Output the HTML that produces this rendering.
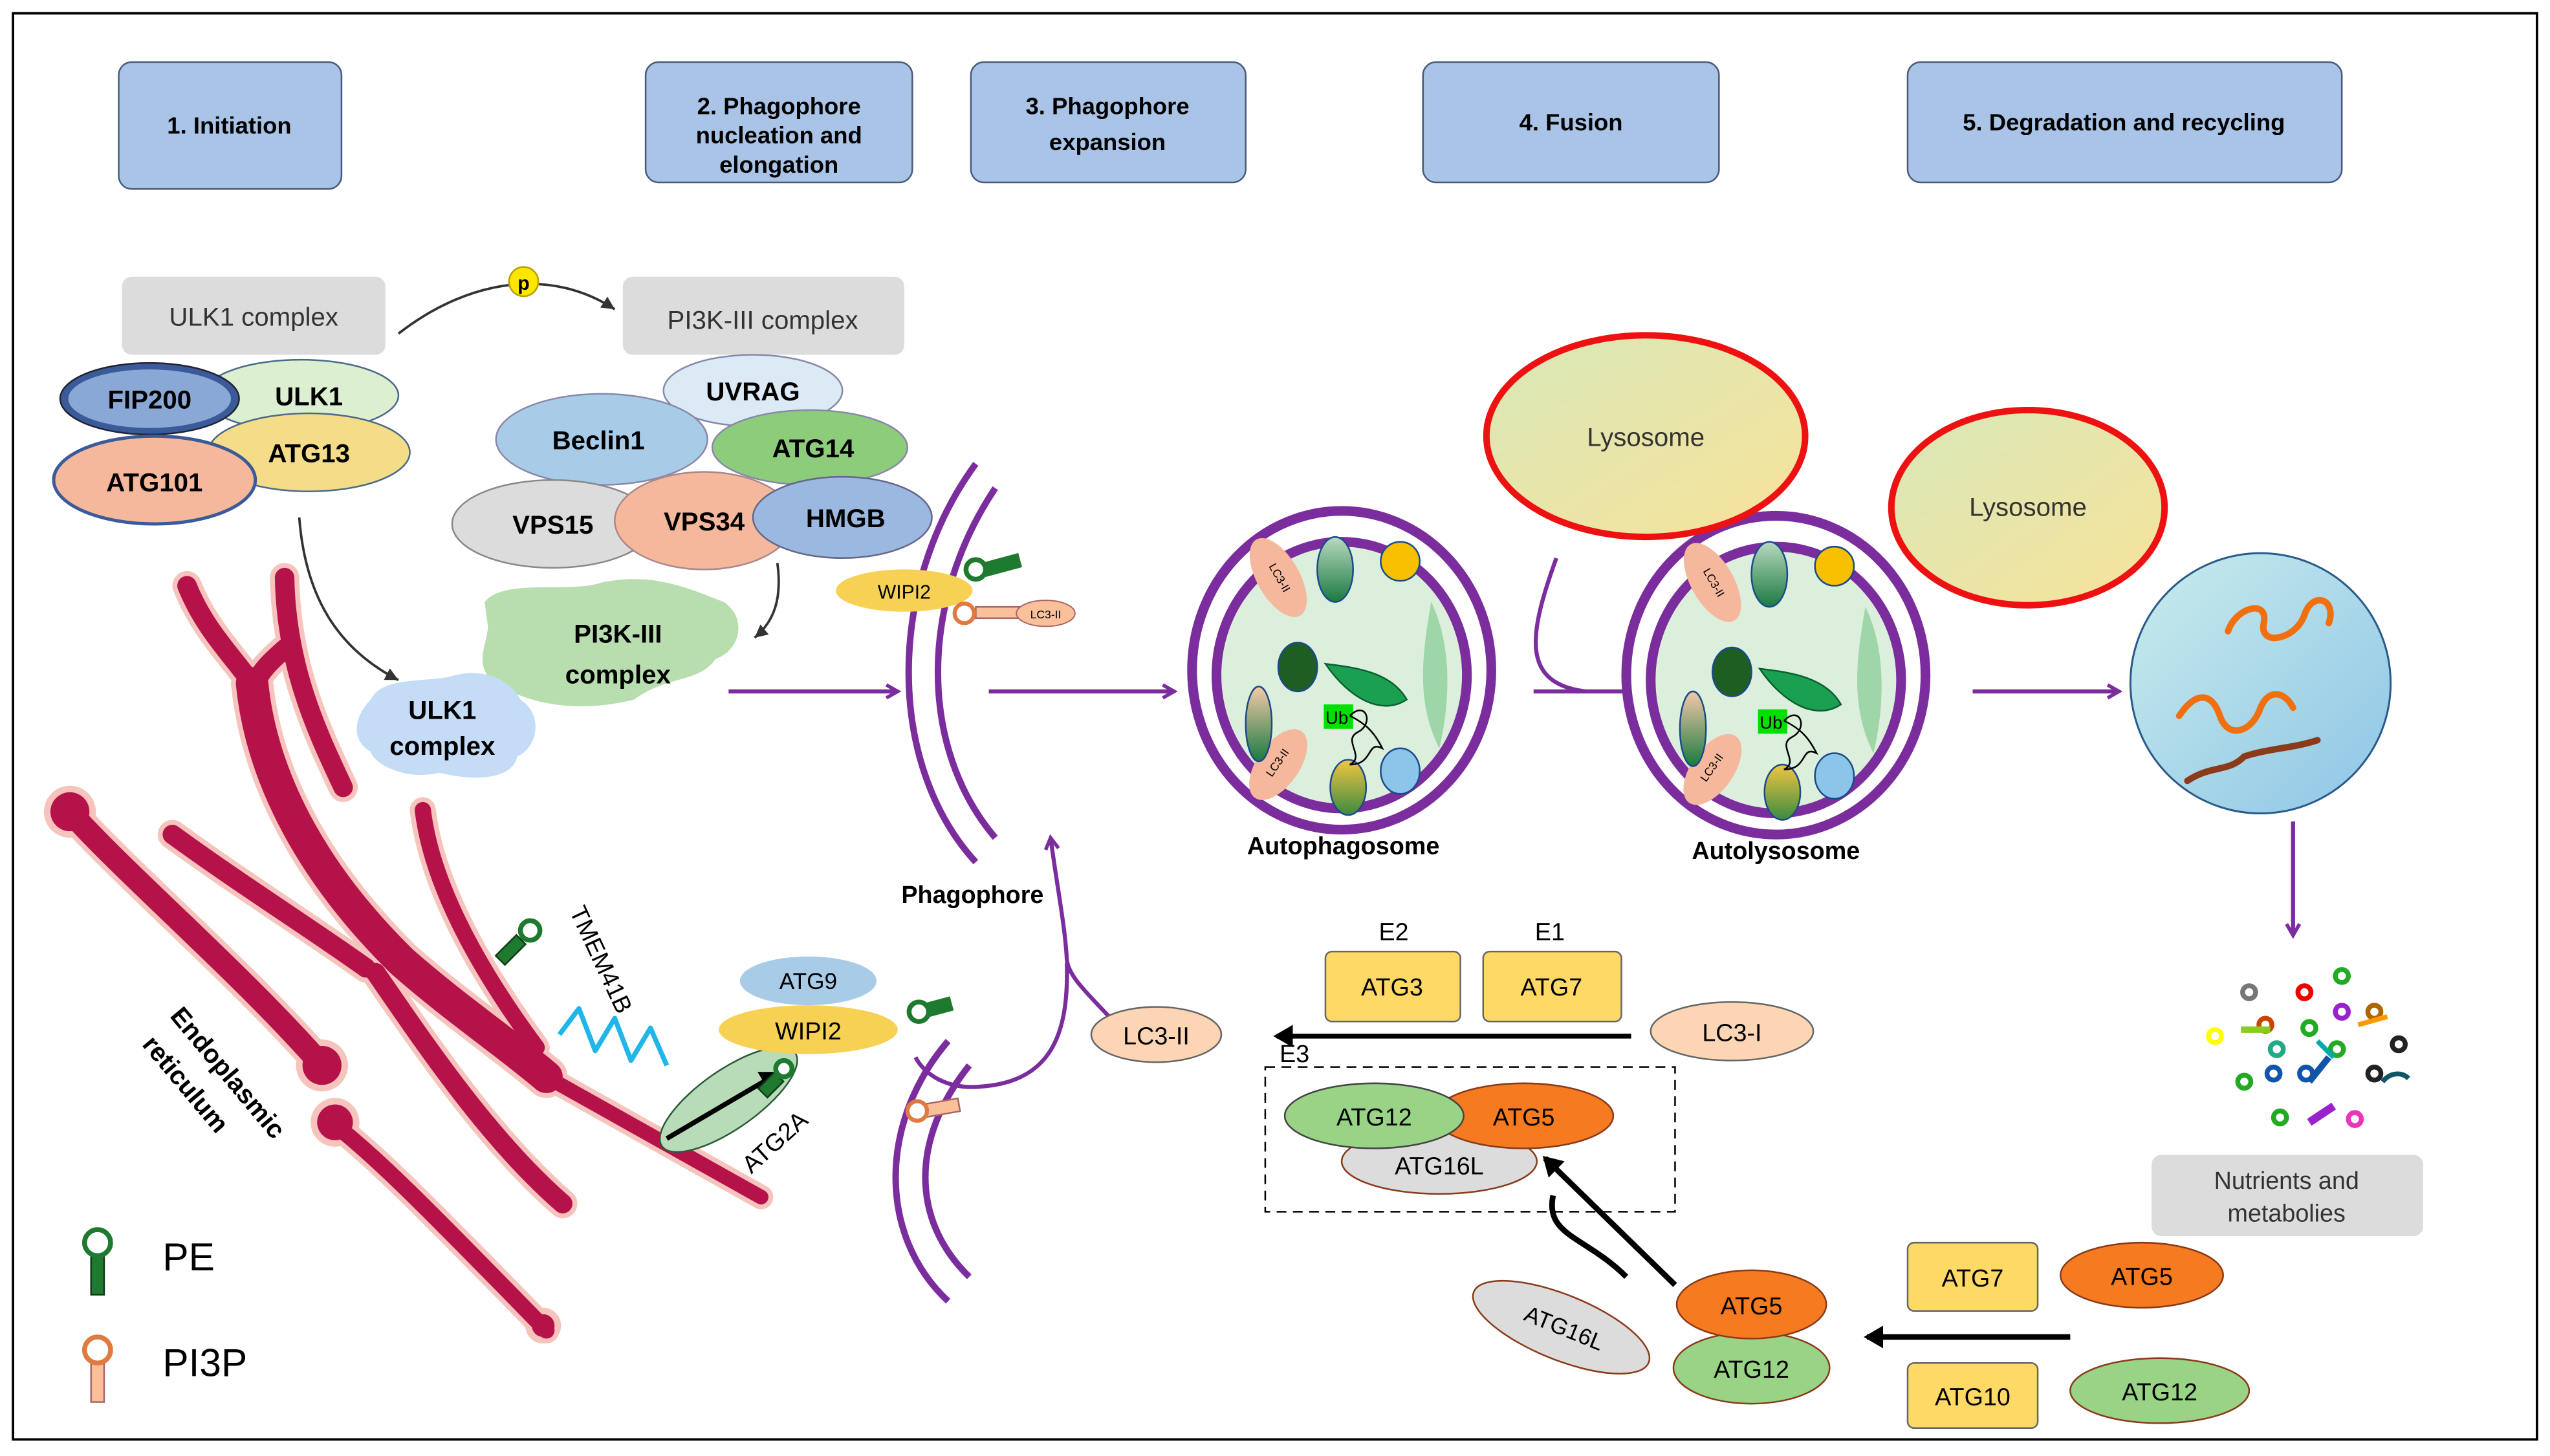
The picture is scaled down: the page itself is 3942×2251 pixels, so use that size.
<!DOCTYPE html>
<html><head><meta charset="utf-8"><style>
html,body{margin:0;padding:0;background:#fff}
svg{display:block}
text{font-family:"Liberation Sans",Arial,sans-serif}
</style></head><body>
<svg width="3942" height="2251" viewBox="0 0 1568 895" xmlns="http://www.w3.org/2000/svg">
<defs>
<marker id="ap" markerWidth="10" markerHeight="10" refX="8" refY="5" orient="auto" markerUnits="userSpaceOnUse"><path d="M1,1 L8,5 L1,9" fill="none" stroke="#7b2d9e" stroke-width="2.2"/></marker>
<marker id="ak" markerWidth="14" markerHeight="14" refX="10" refY="7" orient="auto" markerUnits="userSpaceOnUse"><path d="M0,0 L12,7 L0,14 z" fill="#000"/></marker>
<marker id="ag" markerWidth="10" markerHeight="10" refX="8" refY="5" orient="auto" markerUnits="userSpaceOnUse"><path d="M0,1 L8,5 L0,9 z" fill="#333"/></marker>
<linearGradient id="lys" x1="0" y1="0" x2="1" y2="1"><stop offset="0" stop-color="#d8e8b8"/><stop offset="1" stop-color="#f8e29a"/></linearGradient>
<linearGradient id="deg" x1="0" y1="0" x2="1" y2="1"><stop offset="0" stop-color="#c9ecec"/><stop offset="1" stop-color="#8ec5e6"/></linearGradient>
<linearGradient id="gg" x1="0" y1="0" x2="0" y2="1"><stop offset="0" stop-color="#b9d9c0"/><stop offset="1" stop-color="#1a7a40"/></linearGradient>
<linearGradient id="yg" x1="0" y1="0" x2="0" y2="1"><stop offset="0" stop-color="#f2c641"/><stop offset="1" stop-color="#3c8a40"/></linearGradient>
<linearGradient id="pg" x1="0" y1="0" x2="0" y2="1"><stop offset="0" stop-color="#f4c9a8"/><stop offset="1" stop-color="#1a7a40"/></linearGradient>
</defs>
<rect x="8" y="8" width="1552" height="877" fill="#fff" stroke="#000" stroke-width="1.5"/>

<g fill="#a9c4e6" stroke="#4a5a7a" stroke-width="1">
<rect x="73" y="38" width="137" height="78" rx="8"/>
<rect x="397" y="38" width="164" height="74" rx="8"/>
<rect x="597" y="38" width="169" height="74" rx="8"/>
<rect x="875" y="38" width="182" height="74" rx="8"/>
<rect x="1173" y="38" width="267" height="74" rx="8"/>
</g>
<g font-size="14.5" font-weight="bold" fill="#000" text-anchor="middle">
<text x="141" y="82">1. Initiation</text>
<text x="479" y="70">2. Phagophore</text><text x="479" y="88">nucleation and</text><text x="479" y="106">elongation</text>
<text x="681" y="70">3. Phagophore</text><text x="681" y="92">expansion</text>
<text x="966" y="80">4. Fusion</text>
<text x="1306" y="80">5. Degradation and recycling</text>
</g>

<g fill="none" stroke-linecap="round" stroke-linejoin="round" stroke="#f7c4bd">
<path d="M115,360 C125,385 140,400 155,420" stroke-width="18"/>
<path d="M175,355 C176,410 195,450 211,484" stroke-width="18"/>
<path d="M176,398 C168,405 160,412 156,422" stroke-width="18"/>
<path d="M155,420 C160,470 185,530 247,591 C280,620 310,640 336,662" stroke-width="26"/>
<path d="M336,662 L468,736" stroke-width="15"/>
<path d="M43,499 C80,540 150,600 198,655" stroke-width="20"/>
<path d="M106,513 C150,545 190,570 225,595" stroke-width="18"/>
<path d="M231,598 C260,640 300,700 346,740" stroke-width="18"/>
<path d="M260,498 C265,540 290,590 330,644" stroke-width="16"/>
<path d="M204,690 C230,710 260,740 336,818" stroke-width="16"/>
<circle cx="43" cy="499" r="16" fill="#f7c4bd" stroke="none"/>
<circle cx="198" cy="655" r="16" fill="#f7c4bd" stroke="none"/>
<circle cx="206" cy="690" r="15" fill="#f7c4bd" stroke="none"/>
<circle cx="334" cy="815" r="11" fill="#f7c4bd" stroke="none"/>
</g>
<g fill="none" stroke-linecap="round" stroke-linejoin="round" stroke="#b5124a">
<path d="M115,360 C125,385 140,400 155,420" stroke-width="12"/>
<path d="M175,355 C176,410 195,450 211,484" stroke-width="12"/>
<path d="M176,398 C168,405 160,412 156,422" stroke-width="12"/>
<path d="M155,420 C160,470 185,530 247,591 C280,620 310,640 336,662" stroke-width="20"/>
<path d="M336,662 L468,736" stroke-width="9"/>
<path d="M43,499 C80,540 150,600 198,655" stroke-width="14"/>
<path d="M106,513 C150,545 190,570 225,595" stroke-width="12"/>
<path d="M231,598 C260,640 300,700 346,740" stroke-width="12"/>
<path d="M260,498 C265,540 290,590 330,644" stroke-width="10"/>
<path d="M204,690 C230,710 260,740 336,818" stroke-width="10"/>
<circle cx="43" cy="499" r="12" fill="#b5124a" stroke="none"/>
<circle cx="198" cy="655" r="12" fill="#b5124a" stroke="none"/>
<circle cx="206" cy="690" r="11" fill="#b5124a" stroke="none"/>
<circle cx="334" cy="815" r="7" fill="#b5124a" stroke="none"/>
</g>
<text font-size="16" font-weight="bold" text-anchor="middle" transform="translate(136,663) rotate(50)">Endoplasmic</text>
<text font-size="16" font-weight="bold" text-anchor="middle" transform="translate(110,670) rotate(50)">reticulum</text>

<path d="M344,636 L356,620 L366,646 L378,626 L388,652 L400,632 L410,655" fill="none" stroke="#21b5ea" stroke-width="3" stroke-linejoin="round"/>
<text font-size="15" transform="translate(350,560) rotate(65)">TMEM41B</text>
<ellipse cx="448" cy="676" rx="50" ry="18" transform="rotate(-35 448 676)" fill="#b8dcb8" stroke="#2a5a3a"/>
<line x1="410" y1="700" x2="478" y2="660" stroke="#000" stroke-width="3" marker-end="url(#ak)"/>
<text font-size="15" transform="translate(462,722) rotate(-42)">ATG2A</text>
<g fill="#1e7a2e" stroke="#0f3c18" stroke-width="1">
<rect x="310" y="575" width="8" height="18" transform="rotate(45 314 584)"/>
<circle cx="326" cy="572" r="6" fill="#fff" stroke="#1e7a2e" stroke-width="3"/>
<rect x="470" y="660" width="8" height="14" transform="rotate(45 474 667)"/>
<circle cx="482" cy="657" r="5" fill="#fff" stroke="#1e7a2e" stroke-width="3"/>
</g>

<rect x="75" y="170" width="162" height="48" rx="6" fill="#dcdcdc"/>
<text x="156" y="200" font-size="16" text-anchor="middle" fill="#333">ULK1 complex</text>
<rect x="383" y="170" width="173" height="48" rx="6" fill="#dcdcdc"/>
<text x="469" y="202" font-size="16" text-anchor="middle" fill="#333">PI3K-III complex</text>
<path d="M245,205 C290,170 340,165 378,190" fill="none" stroke="#333" stroke-width="1.5" marker-end="url(#ag)"/>
<circle cx="322" cy="173" r="9" fill="#ffe600" stroke="#b8a000"/>
<text x="322" y="178" font-size="12" font-weight="bold" text-anchor="middle">p</text>

<ellipse cx="185" cy="243" rx="60" ry="22" fill="#dcefd0" stroke="#4a6a8a"/>
<ellipse cx="92" cy="245" rx="55" ry="22" fill="#3a5a9a" stroke="#223"/>
<ellipse cx="92" cy="245" rx="50" ry="18" fill="#8aa8d6"/>
<ellipse cx="190" cy="278" rx="62" ry="24" fill="#f5dc88" stroke="#4a6a8a"/>
<ellipse cx="95" cy="295" rx="62" ry="27" fill="#f6b89c" stroke="#3a5a9a" stroke-width="2"/>
<g font-size="16" font-weight="bold" text-anchor="middle">
<text x="92" y="251">FIP200</text><text x="190" y="249">ULK1</text><text x="190" y="284">ATG13</text><text x="95" y="302">ATG101</text>
</g>

<ellipse cx="463" cy="240" rx="55" ry="22" fill="#dceaf6" stroke="#88a"/>
<ellipse cx="370" cy="270" rx="65" ry="28" fill="#a8cce8" stroke="#88a"/>
<ellipse cx="498" cy="275" rx="60" ry="23" fill="#8ccc7a" stroke="#88a"/>
<ellipse cx="340" cy="322" rx="62" ry="27" fill="#dcdcdc" stroke="#888"/>
<ellipse cx="433" cy="320" rx="55" ry="30" fill="#f6b89c" stroke="#a88"/>
<ellipse cx="518" cy="318" rx="55" ry="25" fill="#9ab8e0" stroke="#668"/>
<g font-size="16" font-weight="bold" text-anchor="middle">
<text x="463" y="246">UVRAG</text><text x="368" y="276">Beclin1</text><text x="500" y="281">ATG14</text>
<text x="340" y="328">VPS15</text><text x="433" y="326">VPS34</text><text x="520" y="324">HMGB</text>
</g>

<path d="M298,370 C310,355 350,365 370,358 C400,352 420,360 445,370 C460,380 455,400 440,405 C430,420 410,415 390,430 C350,440 320,430 305,420 C290,410 300,395 300,385 Z" fill="#b8deb0"/>
<text x="380" y="395" font-size="16" font-weight="bold" text-anchor="middle">PI3K-III</text>
<text x="380" y="420" font-size="16" font-weight="bold" text-anchor="middle">complex</text>
<path d="M228,430 C235,415 265,420 280,415 C300,410 315,420 320,430 C335,440 330,460 318,465 C315,480 290,480 270,475 C250,480 230,470 228,462 C215,455 218,440 228,430 Z" fill="#c4dcf6"/>
<text x="272" y="442" font-size="16" font-weight="bold" text-anchor="middle">ULK1</text>
<text x="272" y="464" font-size="16" font-weight="bold" text-anchor="middle">complex</text>
<path d="M184,318 C188,370 210,400 245,418" fill="none" stroke="#333" stroke-width="1.5" marker-end="url(#ag)"/>
<path d="M478,346 C481,368 476,382 464,392" fill="none" stroke="#333" stroke-width="1.5" marker-end="url(#ag)"/>

<g fill="none" stroke="#7b2d9e" stroke-width="4">
<path d="M600,285 C545,360 545,470 600,530"/>
<path d="M612,300 C565,370 565,460 612,515"/>
<path d="M583,640 C540,690 540,760 583,800"/>
<path d="M596,655 C560,700 560,750 596,785"/>
</g>
<ellipse cx="556" cy="363" rx="42" ry="13" fill="#f7d154"/>
<text x="556" y="368" font-size="12" text-anchor="middle">WIPI2</text>
<rect x="604" y="346" width="24" height="9" fill="#1e7a2e" transform="rotate(-15 604 350)"/>
<circle cx="600" cy="350" r="6" fill="#fff" stroke="#1e7a2e" stroke-width="3"/>
<rect x="600" y="373" width="28" height="7" fill="#f9c09a" stroke="#a66"/>
<circle cx="593" cy="377" r="6" fill="#fff" stroke="#e07a40" stroke-width="2.5"/>
<ellipse cx="643" cy="377" rx="18" ry="8" fill="#f9c09a" stroke="#a66" stroke-width=".8"/>
<text x="643" y="380" font-size="7" text-anchor="middle">LC3-II</text>
<text x="598" y="555" font-size="15" font-weight="bold" text-anchor="middle">Phagophore</text>

<ellipse cx="497" cy="603" rx="42" ry="15" fill="#a8cce8"/>
<text x="497" y="608" font-size="14" text-anchor="middle">ATG9</text>
<ellipse cx="497" cy="633" rx="55" ry="15" fill="#f7d154"/>
<text x="497" y="639" font-size="15" text-anchor="middle">WIPI2</text>
<rect x="568" y="617" width="18" height="9" fill="#1e7a2e" transform="rotate(-15 568 622)"/>
<circle cx="565" cy="622" r="6" fill="#fff" stroke="#1e7a2e" stroke-width="3"/>
<rect x="568" y="679" width="22" height="8" fill="#f9c09a" stroke="#a66" transform="rotate(-10 568 683)"/>
<circle cx="564" cy="683" r="6" fill="#fff" stroke="#e07a40" stroke-width="2.5"/>

<g fill="none" stroke="#7b2d9e" stroke-width="2.5">
<path d="M448,425 L552,425" marker-end="url(#ap)"/>
<path d="M608,425 L722,425" marker-end="url(#ap)"/>
<path d="M943,425 L1018,425" marker-end="url(#ap)"/>
<path d="M1213,425 L1303,425" marker-end="url(#ap)"/>
<path d="M1410,505 L1410,575" marker-end="url(#ap)"/>
<path d="M957,343 C940,390 935,420 975,425"/>
<path d="M682,625 C668,610 657,600 656,590 C655,570 650,545 646,515" marker-end="url(#ap)"/>
<path d="M656,592 C657,630 650,665 603,668 C582,670 568,660 563,650"/>
</g>

<g>
<ellipse cx="825" cy="412" rx="92" ry="98" fill="#fff" stroke="#7b2d9e" stroke-width="6"/>
<ellipse cx="825" cy="415" rx="77" ry="82" fill="#dcefdc" stroke="#7b2d9e" stroke-width="6"/>
<ellipse cx="786" cy="355" rx="13" ry="27" transform="rotate(-30 786 355)" fill="#f6b89c"/>
<text font-size="7" transform="translate(780,348) rotate(60)">LC3-II</text>
<ellipse cx="786" cy="470" rx="13" ry="25" transform="rotate(35 786 470)" fill="#f6b89c"/>
<text font-size="7" transform="translate(782,478) rotate(-55)">LC3-II</text>
<ellipse cx="821" cy="350" rx="11" ry="20" fill="url(#gg)" stroke="#1a4a8a"/>
<circle cx="861" cy="345" r="12" fill="#f8c000" stroke="#1a4a8a"/>
<ellipse cx="798" cy="410" rx="12" ry="15" fill="#1e5e22" stroke="#1a4a8a"/>
<ellipse cx="774" cy="445" rx="8" ry="23" fill="url(#pg)" stroke="#1a4a8a"/>
<ellipse cx="829" cy="484" rx="11" ry="17" fill="url(#yg)" stroke="#1a4a8a"/>
<ellipse cx="861" cy="474" rx="12" ry="14" fill="#8cc4ea" stroke="#1a4a8a"/>
<path d="M815,408 C830,410 855,412 865,430 C850,440 830,430 815,408 Z" fill="#1aa050" stroke="#0a6030"/>
<path d="M880,370 C895,400 890,440 885,460 C870,430 875,400 880,370 Z" fill="#9ed6a8"/>
<rect x="814" y="433" width="18" height="15" fill="#00e000"/>
<text x="815" y="445" font-size="11">Ub</text>
<path d="M830,440 c10,-10 15,5 5,10 c-10,5 5,15 -5,20 c15,0 10,-15 20,-10 c-5,-10 -10,-15 -20,-20" fill="none" stroke="#000"/>
</g>
<g transform="translate(267,3)">
<ellipse cx="825" cy="412" rx="92" ry="98" fill="#fff" stroke="#7b2d9e" stroke-width="6"/>
<ellipse cx="825" cy="415" rx="77" ry="82" fill="#dcefdc" stroke="#7b2d9e" stroke-width="6"/>
<ellipse cx="786" cy="355" rx="13" ry="27" transform="rotate(-30 786 355)" fill="#f6b89c"/>
<text font-size="7" transform="translate(780,348) rotate(60)">LC3-II</text>
<ellipse cx="786" cy="470" rx="13" ry="25" transform="rotate(35 786 470)" fill="#f6b89c"/>
<text font-size="7" transform="translate(782,478) rotate(-55)">LC3-II</text>
<ellipse cx="821" cy="350" rx="11" ry="20" fill="url(#gg)" stroke="#1a4a8a"/>
<circle cx="861" cy="345" r="12" fill="#f8c000" stroke="#1a4a8a"/>
<ellipse cx="798" cy="410" rx="12" ry="15" fill="#1e5e22" stroke="#1a4a8a"/>
<ellipse cx="774" cy="445" rx="8" ry="23" fill="url(#pg)" stroke="#1a4a8a"/>
<ellipse cx="829" cy="484" rx="11" ry="17" fill="url(#yg)" stroke="#1a4a8a"/>
<ellipse cx="861" cy="474" rx="12" ry="14" fill="#8cc4ea" stroke="#1a4a8a"/>
<path d="M815,408 C830,410 855,412 865,430 C850,440 830,430 815,408 Z" fill="#1aa050" stroke="#0a6030"/>
<path d="M880,370 C895,400 890,440 885,460 C870,430 875,400 880,370 Z" fill="#9ed6a8"/>
<rect x="814" y="433" width="18" height="15" fill="#00e000"/>
<text x="815" y="445" font-size="11">Ub</text>
<path d="M830,440 c10,-10 15,5 5,10 c-10,5 5,15 -5,20 c15,0 10,-15 20,-10 c-5,-10 -10,-15 -20,-20" fill="none" stroke="#000"/>
</g>
<text x="826" y="525" font-size="15" font-weight="bold" text-anchor="middle">Autophagosome</text>
<text x="1092" y="528" font-size="15" font-weight="bold" text-anchor="middle">Autolysosome</text>

<ellipse cx="1012" cy="268" rx="98" ry="62" fill="url(#lys)" stroke="#ee1111" stroke-width="4"/>
<text x="1012" y="274" font-size="16" text-anchor="middle" fill="#333">Lysosome</text>
<ellipse cx="1247" cy="312" rx="84" ry="60" fill="url(#lys)" stroke="#ee1111" stroke-width="4"/>
<text x="1247" y="317" font-size="16" text-anchor="middle" fill="#333">Lysosome</text>

<circle cx="1390" cy="420" r="80" fill="url(#deg)" stroke="#2a5a8a" stroke-width="1.2"/>
<g fill="none" stroke-linecap="round" stroke-width="4">
<path d="M1370,388 c5,-15 25,-20 22,-5 c-3,15 20,10 25,-5 c5,-15 20,-10 15,5" stroke="#f07010"/>
<path d="M1340,440 c10,-15 20,-15 25,0 c5,15 20,10 25,-5 c5,-12 15,-10 20,0" stroke="#f07010"/>
<path d="M1345,480 c15,-10 25,-5 35,-15 c15,-5 30,-5 45,-10" stroke="#8b3a1a"/>
</g>
<g stroke-width="3" fill="none">
<circle cx="1383" cy="610" r="4" stroke="#777"/><circle cx="1417" cy="610" r="4" stroke="#e00"/><circle cx="1440" cy="600" r="4" stroke="#2a2"/>
<circle cx="1362" cy="637" r="4" stroke="#ff0"/><circle cx="1420" cy="632" r="4" stroke="#2a2"/><circle cx="1440" cy="622" r="4" stroke="#92c"/><circle cx="1460" cy="622" r="4" stroke="#a60"/>
<circle cx="1400" cy="645" r="4" stroke="#2a8"/><circle cx="1475" cy="642" r="4" stroke="#222"/><circle cx="1437" cy="645" r="4" stroke="#2a2"/>
<circle cx="1380" cy="665" r="4" stroke="#2a2"/><circle cx="1398" cy="660" r="4" stroke="#15a"/><circle cx="1418" cy="660" r="4" stroke="#15a"/><circle cx="1460" cy="660" r="4" stroke="#222"/>
<circle cx="1402" cy="687" r="4" stroke="#2a2"/><circle cx="1448" cy="688" r="4" stroke="#e3b"/><circle cx="1393" cy="630" r="4" stroke="#c40"/>
<line x1="1378" y1="633" x2="1396" y2="633" stroke="#8c2" stroke-width="4"/>
<line x1="1425" y1="640" x2="1435" y2="650" stroke="#0aa"/>
<line x1="1432" y1="650" x2="1420" y2="665" stroke="#15a" stroke-width="4"/>
<line x1="1450" y1="630" x2="1468" y2="625" stroke="#f90"/>
<line x1="1420" y1="690" x2="1435" y2="680" stroke="#92c" stroke-width="5"/>
<path d="M1465,665 c5,-6 12,-6 16,-2" stroke="#156"/>
</g>
<rect x="1323" y="710" width="167" height="50" rx="6" fill="#dcdcdc"/>
<text x="1406" y="731" font-size="15" text-anchor="middle" fill="#333">Nutrients and</text>
<text x="1406" y="751" font-size="15" text-anchor="middle" fill="#333">metabolies</text>

<text x="857" y="578" font-size="15" text-anchor="middle">E2</text>
<text x="953" y="578" font-size="15" text-anchor="middle">E1</text>
<rect x="815" y="585" width="83" height="43" rx="4" fill="#ffd966" stroke="#666"/>
<rect x="912" y="585" width="85" height="43" rx="4" fill="#ffd966" stroke="#666"/>
<text x="856" y="612" font-size="15" text-anchor="middle">ATG3</text>
<text x="954" y="612" font-size="15" text-anchor="middle">ATG7</text>
<ellipse cx="1065" cy="634" rx="50" ry="18" fill="#fcd5b5" stroke="#666"/>
<text x="1065" y="640" font-size="15" text-anchor="middle">LC3-I</text>
<ellipse cx="711" cy="636" rx="40" ry="17" fill="#fcd5b5" stroke="#666"/>
<text x="711" y="642" font-size="15" text-anchor="middle">LC3-II</text>
<line x1="1003" y1="637" x2="785" y2="637" stroke="#000" stroke-width="3" marker-end="url(#ak)"/>
<text x="796" y="653" font-size="15" text-anchor="middle">E3</text>
<rect x="778" y="656" width="252" height="89" fill="none" stroke="#000" stroke-dasharray="6,4"/>
<ellipse cx="885" cy="714" rx="60" ry="20" fill="#dcdcdc" stroke="#8a3a1a"/>
<ellipse cx="937" cy="686" rx="55" ry="20" fill="#f57a20" stroke="#8a3a1a"/>
<ellipse cx="845" cy="686" rx="55" ry="20" fill="#99d386" stroke="#444"/>
<text x="845" y="692" font-size="15" text-anchor="middle">ATG12</text>
<text x="937" y="692" font-size="15" text-anchor="middle">ATG5</text>
<text x="885" y="722" font-size="15" text-anchor="middle">ATG16L</text>

<ellipse cx="960" cy="816" rx="58" ry="20" transform="rotate(22 960 816)" fill="#dcdcdc" stroke="#8a3a1a"/>
<text font-size="14" text-anchor="middle" transform="translate(960,821) rotate(22)">ATG16L</text>
<ellipse cx="1077" cy="841" rx="48" ry="22" fill="#99d386" stroke="#8a3a1a"/>
<ellipse cx="1077" cy="802" rx="46" ry="21" fill="#f57a20" stroke="#8a3a1a"/>
<text x="1077" y="808" font-size="15" text-anchor="middle">ATG5</text>
<text x="1077" y="847" font-size="15" text-anchor="middle">ATG12</text>
<path d="M1030,790 L950,712" stroke="#000" stroke-width="3.5" fill="none" marker-end="url(#ak)"/>
<path d="M1000,785 C975,760 950,760 955,735" stroke="#000" stroke-width="3.5" fill="none"/>
<line x1="1273" y1="822" x2="1148" y2="822" stroke="#000" stroke-width="3.5" marker-end="url(#ak)"/>
<rect x="1173" y="764" width="80" height="42" rx="4" fill="#ffd966" stroke="#666"/>
<text x="1213" y="791" font-size="15" text-anchor="middle">ATG7</text>
<rect x="1173" y="838" width="80" height="40" rx="4" fill="#ffd966" stroke="#666"/>
<text x="1213" y="864" font-size="15" text-anchor="middle">ATG10</text>
<ellipse cx="1317" cy="784" rx="50" ry="20" fill="#f57a20" stroke="#8a3a1a"/>
<text x="1317" y="790" font-size="15" text-anchor="middle">ATG5</text>
<ellipse cx="1328" cy="855" rx="55" ry="20" fill="#99d386" stroke="#8a3a1a"/>
<text x="1328" y="861" font-size="15" text-anchor="middle">ATG12</text>

<rect x="56" y="770" width="8" height="26" fill="#1e7a2e" stroke="#0f3c18"/>
<circle cx="60" cy="764" r="8" fill="#fff" stroke="#1e7a2e" stroke-width="3"/>
<text x="100" y="781" font-size="24">PE</text>
<rect x="56" y="836" width="8" height="26" fill="#f9c09a" stroke="#a66"/>
<circle cx="60" cy="830" r="8" fill="#fff" stroke="#e07a40" stroke-width="3"/>
<text x="100" y="846" font-size="24">PI3P</text>
</svg>
</body></html>
